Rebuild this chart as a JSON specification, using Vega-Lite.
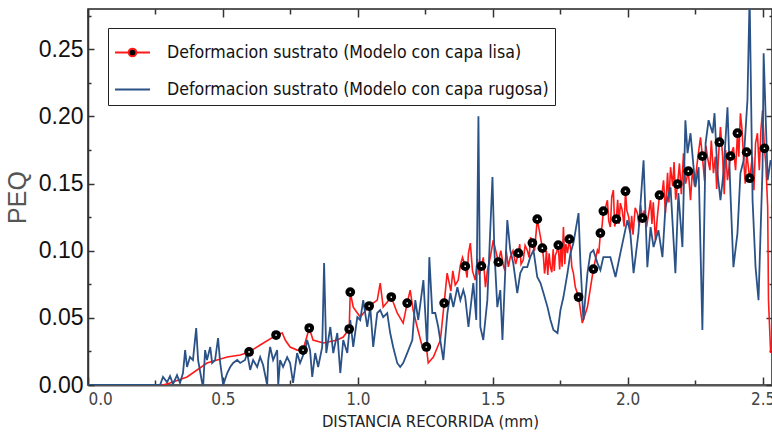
{
 "$schema": "https://vega.github.io/schema/vega-lite/v6.json",
 "width": 684, "height": 376,
 "autosize": "none",
 "padding": {"left": 88, "top": 9, "right": 0, "bottom": 53},
 "background": "white",
 "config": {"view": {"stroke": "#222", "strokeWidth": 1.5}, "font": "Liberation Sans"},
 "datasets": {
  "lisa": [
   {"d":0,"peq":0},{"d":0.278,"peq":0},{"d":0.304,"peq":0.0015},{"d":0.367,"peq":0.006},{"d":0.441,"peq":0.0164},{"d":0.516,"peq":0.0208},{"d":0.564,"peq":0.0223},{"d":0.597,"peq":0.0246,"m":1},{"d":0.638,"peq":0.0298},{"d":0.686,"peq":0.0357},{"d":0.697,"peq":0.0372,"m":1},{"d":0.72,"peq":0.0387},{"d":0.731,"peq":0.0335},{"d":0.749,"peq":0.0283},{"d":0.775,"peq":0.026},{"d":0.797,"peq":0.026,"m":1},{"d":0.82,"peq":0.0424,"m":1},{"d":0.834,"peq":0.0335},{"d":0.872,"peq":0.0313},{"d":0.924,"peq":0.0335},{"d":0.946,"peq":0.0357},{"d":0.968,"peq":0.0417,"m":1},{"d":0.972,"peq":0.0692,"m":1},{"d":0.983,"peq":0.058},{"d":1.009,"peq":0.0506},{"d":1.042,"peq":0.0588,"m":1},{"d":1.072,"peq":0.0632},{"d":1.083,"peq":0.0759},{"d":1.094,"peq":0.058},{"d":1.124,"peq":0.0655,"m":1},{"d":1.146,"peq":0.0536},{"d":1.168,"peq":0.0461},{"d":1.183,"peq":0.061,"m":1},{"d":1.194,"peq":0.0707},{"d":1.205,"peq":0.0558},{"d":1.22,"peq":0.0432},{"d":1.239,"peq":0.0283},{"d":1.254,"peq":0.0283,"m":1},{"d":1.261,"peq":0.0164},{"d":1.28,"peq":0.0208},{"d":1.306,"peq":0.0335},{"d":1.32,"peq":0.061,"m":1},{"d":1.331,"peq":0.0833},{"d":1.345,"peq":0.07},{"d":1.352,"peq":0.085},{"d":1.361,"peq":0.0744},{"d":1.372,"peq":0.078},{"d":1.38,"peq":0.0893},{"d":1.388,"peq":0.095},{"d":1.398,"peq":0.0885,"m":1},{"d":1.405,"peq":0.08},{"d":1.41,"peq":0.098},{"d":1.417,"peq":0.1057},{"d":1.425,"peq":0.085},{"d":1.435,"peq":0.0781},{"d":1.443,"peq":0.094},{"d":1.45,"peq":0.082},{"d":1.458,"peq":0.0885,"m":1},{"d":1.465,"peq":0.095},{"d":1.473,"peq":0.0729},{"d":1.48,"peq":0.085},{"d":1.491,"peq":0.0952},{"d":1.502,"peq":0.1079},{"d":1.521,"peq":0.0915,"m":1},{"d":1.53,"peq":0.1},{"d":1.539,"peq":0.0893},{"d":1.545,"peq":0.085},{"d":1.55,"peq":0.1},{"d":1.558,"peq":0.088},{"d":1.565,"peq":0.0952},{"d":1.575,"peq":0.1},{"d":1.585,"peq":0.09},{"d":1.595,"peq":0.0982,"m":1},{"d":1.6,"peq":0.105},{"d":1.605,"peq":0.09},{"d":1.613,"peq":0.093},{"d":1.62,"peq":0.104},{"d":1.628,"peq":0.1004},{"d":1.635,"peq":0.095},{"d":1.64,"peq":0.11},{"d":1.647,"peq":0.1057,"m":1},{"d":1.655,"peq":0.1},{"d":1.665,"peq":0.1235,"m":1},{"d":1.677,"peq":0.1101},{"d":1.684,"peq":0.1019,"m":1},{"d":1.688,"peq":0.095},{"d":1.692,"peq":0.083},{"d":1.695,"peq":0.0878},{"d":1.699,"peq":0.1},{"d":1.704,"peq":0.082},{"d":1.709,"peq":0.098},{"d":1.714,"peq":0.0878},{"d":1.719,"peq":0.084},{"d":1.724,"peq":0.101},{"d":1.728,"peq":0.085},{"d":1.732,"peq":0.0967},{"d":1.737,"peq":0.099},{"d":1.743,"peq":0.1042,"m":1},{"d":1.748,"peq":0.086},{"d":1.753,"peq":0.104},{"d":1.757,"peq":0.088},{"d":1.762,"peq":0.1176},{"d":1.767,"peq":0.09},{"d":1.771,"peq":0.105},{"d":1.777,"peq":0.0982},{"d":1.784,"peq":0.1086,"m":1},{"d":1.789,"peq":0.1},{"d":1.793,"peq":0.088},{"d":1.799,"peq":0.0833},{"d":1.806,"peq":0.0729},{"d":1.818,"peq":0.0655,"m":1},{"d":1.832,"peq":0.0461},{"d":1.851,"peq":0.058},{"d":1.873,"peq":0.0863,"m":1},{"d":1.888,"peq":0.1004},{"d":1.893,"peq":0.098},{"d":1.899,"peq":0.1131,"m":1},{"d":1.905,"peq":0.118},{"d":1.91,"peq":0.1295,"m":1},{"d":1.915,"peq":0.13},{"d":1.925,"peq":0.1376},{"d":1.93,"peq":0.122},{"d":1.936,"peq":0.1176},{"d":1.941,"peq":0.14},{"d":1.947,"peq":0.1451},{"d":1.952,"peq":0.118},{"d":1.958,"peq":0.1235,"m":1},{"d":1.963,"peq":0.138},{"d":1.968,"peq":0.12},{"d":1.973,"peq":0.1354},{"d":1.98,"peq":0.13},{"d":1.987,"peq":0.118},{"d":1.992,"peq":0.1443,"m":1},{"d":1.997,"peq":0.13},{"d":2.004,"peq":0.125},{"d":2.01,"peq":0.1131},{"d":2.015,"peq":0.126},{"d":2.02,"peq":0.112},{"d":2.028,"peq":0.132},{"d":2.036,"peq":0.128},{"d":2.043,"peq":0.118},{"d":2.048,"peq":0.134},{"d":2.055,"peq":0.1243,"m":1},{"d":2.062,"peq":0.13},{"d":2.07,"peq":0.1176},{"d":2.078,"peq":0.128},{"d":2.085,"peq":0.1376},{"d":2.09,"peq":0.12},{"d":2.095,"peq":0.136},{"d":2.103,"peq":0.1079},{"d":2.11,"peq":0.125},{"d":2.118,"peq":0.1414,"m":1},{"d":2.125,"peq":0.138},{"d":2.133,"peq":0.1525},{"d":2.14,"peq":0.128},{"d":2.148,"peq":0.158},{"d":2.153,"peq":0.136},{"d":2.159,"peq":0.1622},{"d":2.167,"peq":0.148},{"d":2.172,"peq":0.166},{"d":2.178,"peq":0.138},{"d":2.185,"peq":0.1496,"m":1},{"d":2.192,"peq":0.165},{"d":2.199,"peq":0.142},{"d":2.207,"peq":0.1726},{"d":2.215,"peq":0.15},{"d":2.225,"peq":0.1592,"m":1},{"d":2.233,"peq":0.1376},{"d":2.24,"peq":0.16},{"d":2.248,"peq":0.148},{"d":2.259,"peq":0.1674},{"d":2.27,"peq":0.1845},{"d":2.277,"peq":0.1704,"m":1},{"d":2.285,"peq":0.152},{"d":2.29,"peq":0.178},{"d":2.296,"peq":0.1696},{"d":2.305,"peq":0.16},{"d":2.31,"peq":0.182},{"d":2.318,"peq":0.1577},{"d":2.325,"peq":0.17},{"d":2.33,"peq":0.146},{"d":2.34,"peq":0.1808,"m":1},{"d":2.344,"peq":0.192},{"d":2.352,"peq":0.17},{"d":2.358,"peq":0.142},{"d":2.363,"peq":0.175},{"d":2.37,"peq":0.1525},{"d":2.381,"peq":0.1704,"m":1},{"d":2.392,"peq":0.1771},{"d":2.4,"peq":0.16},{"d":2.407,"peq":0.1875,"m":1},{"d":2.412,"peq":0.17},{"d":2.418,"peq":0.2024},{"d":2.424,"peq":0.19},{"d":2.43,"peq":0.1674},{"d":2.436,"peq":0.15},{"d":2.441,"peq":0.1734,"m":1},{"d":2.452,"peq":0.154,"m":1},{"d":2.455,"peq":0.1577},{"d":2.462,"peq":0.17},{"d":2.468,"peq":0.145},{"d":2.474,"peq":0.18},{"d":2.481,"peq":0.1875},{"d":2.488,"peq":0.16},{"d":2.494,"peq":0.19},{"d":2.5,"peq":0.2046},{"d":2.507,"peq":0.1763,"m":1},{"d":2.512,"peq":0.165},{"d":2.519,"peq":0.1324},{"d":2.522,"peq":0.0632},{"d":2.53,"peq":0.0238}
  ],
  "rugosa": [
   {"d":0,"peq":0},{"d":0.267,"peq":0},{"d":0.278,"peq":0.006},{"d":0.293,"peq":0.002},{"d":0.304,"peq":0.0067},{"d":0.315,"peq":0.0007},{"d":0.33,"peq":0.0074},{"d":0.341,"peq":0.0015},{"d":0.352,"peq":0.0089},{"d":0.36,"peq":0.026},{"d":0.367,"peq":0.0134},{"d":0.378,"peq":0.0208},{"d":0.389,"peq":0.0186},{"d":0.401,"peq":0.0424},{"d":0.408,"peq":0.0186},{"d":0.423,"peq":0.0015},{"d":0.427,"peq":0},{"d":0.434,"peq":0.026},{"d":0.441,"peq":0.0186},{"d":0.453,"peq":0.0283},{"d":0.46,"peq":0.0164},{"d":0.471,"peq":0.0186},{"d":0.482,"peq":0.035},{"d":0.49,"peq":0.0164},{"d":0.501,"peq":0},{"d":0.516,"peq":0.0089},{"d":0.527,"peq":0.0134},{"d":0.538,"peq":0.0164},{"d":0.553,"peq":0.0186},{"d":0.564,"peq":0.0164},{"d":0.582,"peq":0.0186},{"d":0.59,"peq":0.0238},{"d":0.601,"peq":0.0112},{"d":0.612,"peq":0.0186},{"d":0.627,"peq":0.0134},{"d":0.638,"peq":0.0208},{"d":0.649,"peq":0.0149},{"d":0.664,"peq":0},{"d":0.668,"peq":0.0186},{"d":0.675,"peq":0.0283},{"d":0.686,"peq":0.0186},{"d":0.701,"peq":0.026},{"d":0.705,"peq":0},{"d":0.712,"peq":0.0186},{"d":0.723,"peq":0.0134},{"d":0.738,"peq":0.0208},{"d":0.749,"peq":0.0164},{"d":0.76,"peq":0.0015},{"d":0.775,"peq":0.0238},{"d":0.786,"peq":0.0164},{"d":0.805,"peq":0.026},{"d":0.812,"peq":0.0335},{"d":0.823,"peq":0.026},{"d":0.831,"peq":0.006},{"d":0.842,"peq":0.0238},{"d":0.853,"peq":0.0134},{"d":0.868,"peq":0.0283},{"d":0.875,"peq":0.0908},{"d":0.883,"peq":0.0238},{"d":0.898,"peq":0.0432},{"d":0.909,"peq":0.0238},{"d":0.924,"peq":0.0387},{"d":0.935,"peq":0.0089},{"d":0.946,"peq":0.0335},{"d":0.961,"peq":0.0238},{"d":0.972,"peq":0.0484},{"d":0.983,"peq":0.0283},{"d":0.998,"peq":0.0506},{"d":1.009,"peq":0.0484},{"d":1.02,"peq":0.0632},{"d":1.035,"peq":0.0432},{"d":1.046,"peq":0.058},{"d":1.057,"peq":0.0283},{"d":1.072,"peq":0.0536},{"d":1.083,"peq":0.0558},{"d":1.094,"peq":0.0506},{"d":1.109,"peq":0.0536},{"d":1.12,"peq":0.0387},{"d":1.131,"peq":0.0283},{"d":1.146,"peq":0.0164},{"d":1.157,"peq":0.0134},{"d":1.168,"peq":0.0164},{"d":1.183,"peq":0.0238},{"d":1.202,"peq":0.0335},{"d":1.213,"peq":0.0632},{"d":1.224,"peq":0.0484},{"d":1.243,"peq":0.0781},{"d":1.257,"peq":0.0283},{"d":1.265,"peq":0.0952},{"d":1.276,"peq":0.0536},{"d":1.287,"peq":0.0536},{"d":1.298,"peq":0.0432},{"d":1.317,"peq":0.0186},{"d":1.332,"peq":0.0536},{"d":1.343,"peq":0.0685},{"d":1.354,"peq":0.058},{"d":1.369,"peq":0.0729},{"d":1.38,"peq":0.0632},{"d":1.391,"peq":0.0707},{"d":1.398,"peq":0.0655},{"d":1.41,"peq":0.0432},{"d":1.428,"peq":0.0759},{"d":1.439,"peq":0.0484},{"d":1.447,"peq":0.2001},{"d":1.454,"peq":0.0432},{"d":1.465,"peq":0.0335},{"d":1.48,"peq":0.0632},{"d":1.499,"peq":0.1548},{"d":1.506,"peq":0.1004},{"d":1.517,"peq":0.058},{"d":1.528,"peq":0.0707},{"d":1.536,"peq":0.0335},{"d":1.554,"peq":0.1228},{"d":1.565,"peq":0.1004},{"d":1.576,"peq":0.0908},{"d":1.591,"peq":0.0685},{"d":1.602,"peq":0.0833},{"d":1.613,"peq":0.0878},{"d":1.628,"peq":0.0878},{"d":1.639,"peq":0.0952},{"d":1.651,"peq":0.1004},{"d":1.665,"peq":0.0804},{"d":1.677,"peq":0.0759},{"d":1.688,"peq":0.0685},{"d":1.703,"peq":0.058},{"d":1.714,"peq":0.0484},{"d":1.725,"peq":0.0409},{"d":1.74,"peq":0.0387},{"d":1.751,"peq":0.0558},{"d":1.762,"peq":0.0655},{"d":1.777,"peq":0.0833},{"d":1.788,"peq":0.0982},{"d":1.799,"peq":0.1057},{"d":1.818,"peq":0.128},{"d":1.825,"peq":0.0908},{"d":1.836,"peq":0.0484},{"d":1.851,"peq":0.0833},{"d":1.862,"peq":0.0982},{"d":1.873,"peq":0.1004},{"d":1.888,"peq":0.0908},{"d":1.899,"peq":0.0856},{"d":1.91,"peq":0.0952},{"d":1.925,"peq":0.0952},{"d":1.936,"peq":0.0952},{"d":1.955,"peq":0.0804},{"d":1.973,"peq":0.0982},{"d":1.999,"peq":0.1228},{"d":2.01,"peq":0.1131},{"d":2.022,"peq":0.0833},{"d":2.04,"peq":0.1131},{"d":2.059,"peq":0.1674},{"d":2.073,"peq":0.0878},{"d":2.085,"peq":0.1176},{"d":2.096,"peq":0.1027},{"d":2.114,"peq":0.1153},{"d":2.129,"peq":0.0952},{"d":2.14,"peq":0.1324},{"d":2.159,"peq":0.1473},{"d":2.177,"peq":0.0833},{"d":2.188,"peq":0.1429},{"d":2.203,"peq":0.1027},{"d":2.214,"peq":0.1972},{"d":2.222,"peq":0.1726},{"d":2.233,"peq":0.1875},{"d":2.251,"peq":0.1473},{"d":2.263,"peq":0.1622},{"d":2.277,"peq":0.0409},{"d":2.289,"peq":0.1801},{"d":2.3,"peq":0.1972},{"d":2.315,"peq":0.1875},{"d":2.322,"peq":0.2024},{"d":2.333,"peq":0.1577},{"d":2.344,"peq":0.1376},{"d":2.355,"peq":0.1577},{"d":2.37,"peq":0.2068},{"d":2.381,"peq":0.1429},{"d":2.392,"peq":0.0878},{"d":2.407,"peq":0.1131},{"d":2.418,"peq":0.1577},{"d":2.43,"peq":0.1674},{"d":2.444,"peq":0.2121},{"d":2.452,"peq":0.29},{"d":2.463,"peq":0.1376},{"d":2.474,"peq":0.0878},{"d":2.485,"peq":0.0632},{"d":2.5,"peq":0.1622},{"d":2.504,"peq":0.247},{"d":2.519,"peq":0.1525},{"d":2.53,"peq":0.1674}
  ]
 },
 "layer": [
  {
   "data": {"name": "lisa"},
   "mark": {"type": "line", "strokeWidth": 1.6, "clip": true},
   "encoding": {
    "x": {"field": "d", "type": "quantitative", "scale": {"domain": [0, 2.535], "nice": false, "zero": false},
     "axis": {"orient": "bottom", "values": [0,0.25,0.5,0.75,1,1.25,1.5,1.75,2,2.25,2.5], "grid": false,
      "labelExpr": "round(datum.value*4) % 2 == 0 ? format(datum.value, '.1f') : ''",
      "tickSize": {"condition": {"test": "round(datum.value*4) % 2 == 0", "value": -8}, "value": -5},
      "tickColor": "#333", "tickWidth": 1.5, "domainColor": "#555", "domainWidth": 2,
      "labelFont": "DejaVu Sans Condensed", "labelFontSize": 17, "labelColor": "#444", "labelPadding": 14,
      "title": "DISTANCIA RECORRIDA (mm)", "titleFont": "DejaVu Sans Condensed", "titleFontSize": 16.5, "titleFontWeight": "normal", "titleColor": "#222", "titlePadding": 6}},
    "y": {"field": "peq", "type": "quantitative", "scale": {"domain": [0, 0.28], "nice": false},
     "axis": {"orient": "left", "values": [0,0.025,0.05,0.075,0.1,0.125,0.15,0.175,0.2,0.225,0.25,0.275], "grid": false,
      "labelExpr": "round(datum.value*40) % 2 == 0 ? format(datum.value, '.2f') : ''",
      "tickSize": {"condition": {"test": "round(datum.value*40) % 2 == 0", "value": -6}, "value": -3},
      "tickColor": "#333", "tickWidth": 1.5, "domainColor": "#333", "domainWidth": 1.5,
      "labelFont": "Liberation Sans", "labelFontSize": 23, "labelColor": "#111", "labelPadding": 11,
      "title": "PEQ", "titleFont": "Liberation Sans", "titleFontSize": 25, "titleFontWeight": "normal", "titleColor": "#555", "titlePadding": 8}},
    "color": {"datum": "Deformacion sustrato (Modelo con capa lisa)", "type": "nominal",
     "scale": {"domain": ["Deformacion sustrato (Modelo con capa lisa)", "Deformacion sustrato (Modelo con capa rugosa)"], "range": ["#ff1a1a", "#2b5287"]},
     "legend": {"orient": "none", "legendX": 20, "legendY": 19, "title": null,
      "symbolType": "stroke", "symbolSize": 1225, "symbolStrokeWidth": 2,
      "labelFont": "DejaVu Sans Condensed", "labelFontSize": 17.6, "labelColor": "#111", "labelOffset": 16, "labelLimit": 700,
      "padding": 6, "rowPadding": 9, "strokeColor": "#222", "fillColor": "white", "cornerRadius": 0,
      "encode": {"symbols": {"update": {
        "shape": {"signal": "datum.value == 'Deformacion sustrato (Modelo con capa lisa)' ? 'M-1,0H-0.22M0.22,0H1M0.22,0A0.22,0.22,0,1,1,-0.22,0A0.22,0.22,0,1,1,0.22,0' : 'M-1,0H1'"},
        "fill": {"signal": "datum.value == 'Deformacion sustrato (Modelo con capa lisa)' ? 'black' : 'transparent'"}}}}}}
   }
  },
  {
   "data": {"name": "rugosa"},
   "mark": {"type": "line", "strokeWidth": 1.8, "clip": true},
   "encoding": {
    "x": {"field": "d", "type": "quantitative", "axis": null},
    "y": {"field": "peq", "type": "quantitative", "axis": null},
    "color": {"datum": "Deformacion sustrato (Modelo con capa rugosa)", "type": "nominal"}
   }
  },
  {
   "data": {"name": "lisa"},
   "transform": [{"filter": "datum.m == 1"}],
   "mark": {"type": "point", "shape": "circle", "filled": true, "color": "black", "size": 95, "opacity": 1},
   "encoding": {
    "x": {"field": "d", "type": "quantitative", "axis": null},
    "y": {"field": "peq", "type": "quantitative", "axis": null}
   }
  },
  {
   "data": {"name": "lisa"},
   "transform": [{"filter": "datum.m == 1"}],
   "mark": {"type": "point", "shape": "circle", "filled": true, "color": "white", "size": 3, "opacity": 1},
   "encoding": {
    "x": {"field": "d", "type": "quantitative", "axis": null},
    "y": {"field": "peq", "type": "quantitative", "axis": null}
   }
  },
  {
   "data": {"name": "lisa"},
   "mark": {"type": "point", "opacity": 0},
   "encoding": {
    "x": {"field": "d", "type": "quantitative",
     "axis": {"orient": "top", "values": [0,0.25,0.5,0.75,1,1.25,1.5,1.75,2,2.25,2.5], "labels": false, "title": null, "domain": false, "grid": false,
      "tickSize": {"condition": {"test": "round(datum.value*4) % 2 == 0", "value": -8}, "value": -5}, "tickColor": "#333", "tickWidth": 1.5}},
    "y": {"field": "peq", "type": "quantitative",
     "axis": {"orient": "right", "values": [0,0.025,0.05,0.075,0.1,0.125,0.15,0.175,0.2,0.225,0.25,0.275], "labels": false, "title": null, "domain": false, "grid": false,
      "tickSize": {"condition": {"test": "round(datum.value*40) % 2 == 0", "value": -6}, "value": -3}, "tickColor": "#333", "tickWidth": 1.5}}
   }
  }
 ],
 "resolve": {"axis": {"x": "independent", "y": "independent"}}
}
